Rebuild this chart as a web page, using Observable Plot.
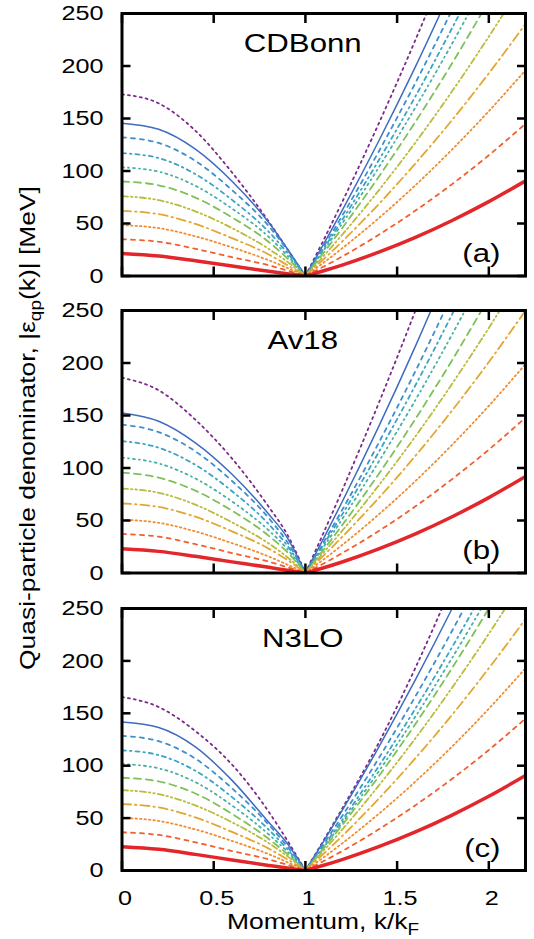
<!DOCTYPE html>
<html><head><meta charset="utf-8">
<script src="https://cdn.jsdelivr.net/npm/d3@7"></script>
<script src="https://cdn.jsdelivr.net/npm/@observablehq/plot@0.6"></script>
<style>
body{margin:0;background:#fff;}
#wrap{position:relative;width:534px;height:939px;font-family:"Liberation Sans",Arial,sans-serif;color:#000;}
#wrap svg{display:block;}
.lab{position:absolute;white-space:nowrap;line-height:1;color:#000;font-family:"Liberation Sans",Arial,sans-serif;}
.lab sub{font-size:0.72em;vertical-align:-0.35em;line-height:0;}
</style></head><body><div id="wrap"></div>
<script>
// ---------- data ----------
const potentials = ["CDBonn", "Av18", "N3LO"];
const panelTags = ["(a)", "(b)", "(c)"];
const kLeft  = [0, 0.2, 0.4, 0.6, 0.8, 0.9, 1.0];
const kRight = [1.0, 1.1, 1.2, 1.4, 1.6, 1.8, 2.0, 2.2];
const yTicks = [0, 50, 100, 150, 200, 250];
const xTicks = [0, 0.5, 1, 1.5, 2];
const xTickLabels = ["0", "0.5", "1", "1.5", "2"];
const seriesIds = ["c1", "c2", "c3", "c4", "c5", "c6", "c7", "c8", "c9", "c10", "c11"];

// |eps_qp(k)| in MeV, one row per curve (same order as seriesIds)
const cdbonnLeft = [
  [173, 164.4, 138.4, 98.6, 51.9, 26, 0],
  [145.5, 139.7, 120.8, 90.2, 50.9, 26.2, 0],
  [132, 126.7, 109.6, 81.8, 47.5, 25.1, 0],
  [117, 112.3, 97.1, 72.5, 42.1, 22.2, 0],
  [103.5, 99.4, 85.9, 64.2, 37.3, 19.7, 0],
  [90, 86.4, 74.7, 55.8, 32.4, 17.1, 0],
  [76, 72.2, 61.6, 45.6, 25.8, 13.7, 0],
  [62, 58.9, 49.6, 36.0, 20.5, 10.5, 0],
  [48.5, 45.6, 37.8, 27.2, 15.0, 7.8, 0],
  [35, 32.6, 25.9, 17.9, 10.2, 5.3, 0],
  [21.5, 19.1, 14.6, 9.5, 4.5, 2.2, 0]
];
const cdbonnRight = [
  [0, 34.6, 70.3, 145.3, 224.9, 309.1],
  [0, 30.5, 62.2, 128.6, 199.4, 274.6],
  [0, 28.1, 57.2, 118.6, 184.0, 253.4],
  [0, 26.1, 53.2, 110.2, 171.2, 236.2, 305],
  [0, 24.5, 49.8, 103.4, 160.6, 221.4, 286],
  [0, 22.3, 45.5, 94.5, 146.9, 202.7, 262],
  [0, 19.2, 39.2, 81.6, 127.2, 176, 228, 283],
  [0, 16.1, 32.8, 68.5, 107.2, 148.6, 193, 240],
  [0, 12.8, 26.3, 55.1, 86.5, 120.5, 157, 196],
  [0, 9.0, 18.5, 39.3, 62.3, 87.5, 115, 145],
  [0, 5.0, 10.4, 22.7, 36.8, 52.9, 70.8, 90.6]
];
const av18Left = [
  [186, 174, 146, 109, 63, 37, 0],
  [152.4, 144.5, 124, 94, 56, 34, 0],
  [141.3, 134.2, 115.9, 87.6, 52.3, 29.7, 0],
  [125.6, 119.3, 103.0, 77.9, 46.5, 26.4, 0],
  [109.8, 104.3, 90.0, 68.1, 40.6, 23.1, 0],
  [95.6, 90.8, 78.4, 59.3, 35.4, 20.1, 0],
  [80.4, 76.4, 65.1, 48.2, 28.1, 15.3, 0],
  [66.2, 62.9, 53.6, 39.7, 23.2, 12.6, 0],
  [50.8, 47.8, 39.6, 28.4, 15.7, 8.1, 0],
  [37.2, 34.6, 27.5, 19.0, 10.8, 5.6, 0],
  [23, 20.6, 15.9, 10.6, 5.4, 2.6, 0]
];
const av18Right = [
  [0, 38.7, 78.5, 161.9, 250, 343],
  [0, 33.2, 67.6, 139.6, 216.1, 297.1],
  [0, 29.4, 59.9, 124.0, 192.3, 264.9],
  [0, 27.3, 55.6, 115.2, 178.9, 246.5, 318],
  [0, 25.1, 51.2, 106.1, 164.8, 227.2, 293],
  [0, 22.3, 45.4, 94.3, 146.8, 202.7, 262],
  [0, 19.7, 40.1, 83.5, 130.2, 180.2, 233.4, 290],
  [0, 16.8, 34.3, 71.5, 111.6, 154.8, 200.9, 250],
  [0, 13.0, 26.6, 55.8, 87.6, 122.1, 159.2, 199],
  [0, 9.1, 18.9, 40.0, 63.5, 89.4, 117.5, 148],
  [0, 5.0, 10.5, 23.0, 37.3, 53.6, 71.8, 92]
];
const n3loLeft = [
  [165.5, 156, 133, 101, 56, 29, 0],
  [141.8, 136.5, 118, 86, 46, 26, 0],
  [128.5, 123.4, 106.7, 78.4, 43.7, 23.1, 0],
  [114.7, 110.1, 95.2, 70.0, 39.0, 20.6, 0],
  [101.6, 97.5, 84.3, 62.0, 34.5, 18.3, 0],
  [88.5, 85.0, 73.5, 54.0, 30.1, 15.9, 0],
  [76.7, 72.9, 62.1, 46.0, 26.1, 13.8, 0],
  [63.4, 60.2, 50.7, 36.8, 20.9, 10.8, 0],
  [50.3, 47.3, 39.2, 28.2, 15.6, 8.0, 0],
  [36.4, 33.9, 26.9, 18.6, 10.6, 5.5, 0],
  [22.7, 20.2, 15.4, 10.0, 4.8, 2.3, 0]
];
const n3loRight = [
  [0, 29.0, 59.0, 121.8, 193.5, 272.4],
  [0, 28.1, 57.1, 117.8, 182.1, 250, 321.5],
  [0, 25.5, 51.8, 107.2, 166.2, 228.8, 295],
  [0, 23.6, 48.0, 99.6, 154.6, 213.2, 275.3],
  [0, 22.3, 45.6, 94.6, 147.0, 202.9, 262.2],
  [0, 21.2, 43.3, 89.9, 139.9, 193.3, 250, 310],
  [0, 19.1, 38.9, 81.0, 126.2, 174.5, 225.9, 280.4],
  [0, 16.1, 32.8, 68.5, 107.2, 148.6, 193, 240],
  [0, 12.6, 25.8, 54.1, 84.9, 118.4, 154.4, 193],
  [0, 9.0, 18.5, 39.3, 62.3, 87.5, 115, 145],
  [0, 5.0, 10.4, 22.7, 36.8, 52.9, 70.8, 90.6]
];

// ---------- styles ----------
const seriesColors = ["#7b2a8c", "#3d6cc0", "#3f8fce", "#3aa4c4", "#45b0a5", "#7ec05a", "#b9bc3c", "#e2a730", "#f28c30", "#f0602e", "#e3262a"];
const seriesDash   = ["2,4", null, "4,5", "4,4,1.5,4", "2,4,1,4", "7,5", "6,3,1.5,3,1.5,3", "9,4,1.5,4", "1.5,3", "4,5", null];
const seriesWidth  = [1.8, 1.5, 1.8, 1.8, 1.8, 1.8, 1.8, 1.8, 1.8, 1.8, 3.5];

const leftByPanel = [cdbonnLeft, av18Left, n3loLeft];
const rightByPanel = [cdbonnRight, av18Right, n3loRight];
const layout = [
  {height: 297, top: 13, bottom: 21.5},
  {height: 297, top: 13, bottom: 21.5},
  {height: 345, top: 14, bottom: 69}
];
const SX = 1.2;

// widen glyphs horizontally about each text's own anchor point
function stretchText(svg, sx) {
  svg.querySelectorAll("text").forEach(t => {
    let tr = t.getAttribute("transform") || "";
    const x = t.getAttribute("x");
    if (x != null && isFinite(+x)) {
      tr += ` translate(${+x},0)`;
      t.removeAttribute("x");
    }
    t.setAttribute("transform", (tr + ` scale(${sx},1)`).trim());
  });
}

const wrap = document.getElementById("wrap");
potentials.forEach((name, i) => {
  const marks = [];
  seriesIds.forEach((s, j) => {
    const rows = [];
    leftByPanel[i][j].forEach((v, m) => rows.push({branch: "L", k: kLeft[m], v}));
    rightByPanel[i][j].forEach((v, m) => rows.push({branch: "R", k: kRight[m], v}));
    marks.push(Plot.line(rows, {
      x: "k", y: "v", z: "branch",
      stroke: seriesColors[j], strokeWidth: seriesWidth[j],
      strokeDasharray: seriesDash[j] || undefined,
      curve: "monotone-x", clip: true
    }));
  });
  const last = i === potentials.length - 1;
  marks.push(
    Plot.axisY(yTicks, {anchor: "left", tickSize: -9, tickPadding: 27.5, strokeWidth: 2.5, label: null, fontSize: 21}),
    Plot.axisY(yTicks, {anchor: "right", tickSize: -9, strokeWidth: 2.5, label: null, tickFormat: () => ""}),
    Plot.axisX(xTicks, {anchor: "top", tickSize: -9, strokeWidth: 2.5, label: null, tickFormat: () => ""}),
    Plot.axisX(xTicks, {anchor: "bottom", tickSize: -9, strokeWidth: 2.5, label: null, tickFormat: () => ""}),
    Plot.text([name], {text: d => d, frameAnchor: "top", lineAnchor: "bottom", dx: -21, dy: 38, fontSize: 26}),
    Plot.text([panelTags[i]], {text: d => d, frameAnchor: "bottom-right", textAnchor: "end", lineAnchor: "bottom", dx: -25, dy: -14, fontSize: 26}),
    Plot.frame({stroke: "black", strokeWidth: 3})
  );
  if (last) {
    marks.push(Plot.axisX(xTicks, {anchor: "bottom", tickSize: 0, tickPadding: 20, dx: 3, label: null, fontSize: 21,
      tickFormat: d => xTickLabels[xTicks.indexOf(d)]}));
  }
  const L = layout[i];
  const svg = Plot.plot({
    width: 534, height: L.height,
    marginLeft: 121.5, marginRight: 9, marginTop: L.top, marginBottom: L.bottom,
    x: {domain: [0, 2.2], nice: false},
    y: {domain: [0, 250], nice: false},
    style: {fontFamily: "'Liberation Sans', Arial, sans-serif", fontSize: "21px", color: "black", background: "white", overflow: "visible"},
    marks
  });
  stretchText(svg, SX);
  wrap.appendChild(svg);
});

// axis titles
const ylab = document.createElement("div");
ylab.className = "lab";
ylab.style.cssText += "left:28px;top:428px;font-size:22px;transform:translate(-50%,-50%) rotate(-90deg) scale(1.2,1);";
ylab.innerHTML = "Quasi-particle denominator, |ε<sub>qp</sub>(k)| [MeV]";
wrap.appendChild(ylab);

const xlab = document.createElement("div");
xlab.className = "lab";
xlab.style.cssText += "left:323px;top:911px;font-size:22px;transform:translateX(-50%) scale(1.2,1);";
xlab.innerHTML = "Momentum, k/k<sub>F</sub>";
wrap.appendChild(xlab);
</script>
</body></html>
